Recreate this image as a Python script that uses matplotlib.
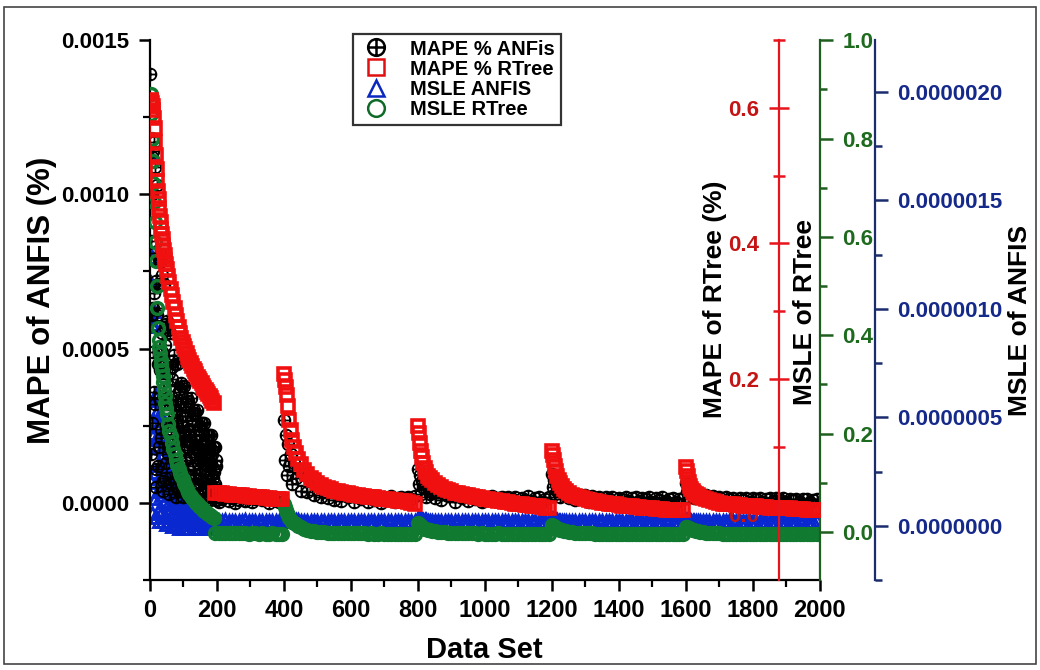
import numpy as np
import matplotlib
matplotlib.use('Agg')
import matplotlib.pyplot as plt
from matplotlib.path import Path
from matplotlib.lines import Line2D
from matplotlib.patches import Rectangle
from matplotlib.ticker import MultipleLocator, FormatStrFormatter
from matplotlib import font_manager

# ---------------- data ----------------
# x positions (data set index)
anfis_x_odd = list(range(1, 200, 2))
anfis_x_even = list(range(2, 199, 2))
rtree_x_first = list(range(2, 51, 2)) + list(range(54, 191, 4))
flat_x = list(range(195, 400, 10))
seg_offsets = [0, 3, 6, 9, 12, 16, 20, 25, 30, 36, 42, 50] + list(range(60, 400, 10))
seg_starts = [400, 800, 1200, 1600]

# MAPE % ANFIS (left axis, in 1e-5)
mape_anfis_odd = [
    139, 61, 100, 26, 114, 68, 36, 109, 72, 11,
    103, 45, 71, 18, 78, 46, 24, 74, 49, 7,
    71, 32, 51, 13, 58, 34, 18, 56, 38, 6,
    55, 24, 40, 10, 46, 28, 14, 45, 30, 5,
    45, 20, 32, 8, 37, 23, 12, 38, 25, 4,
    38, 17, 28, 7, 32, 20, 11, 33, 22, 3,
    34, 15, 25, 6, 29, 18, 9, 29, 20, 3,
    30, 13, 22, 6, 25, 15, 8, 26, 17, 3,
    26, 11, 19, 5, 22, 13, 7, 22, 14, 2,
    22, 9, 16, 4, 18, 11, 6, 18, 12, 2]
mape_anfis_even = [
    85, 16, 112, 49, 63, 117, 32, 81, 5, 61,
    63, 12, 79, 34, 43, 80, 21, 55, 4, 42,
    43, 8, 57, 25, 32, 59, 16, 42, 3, 32,
    33, 6, 44, 19, 25, 48, 13, 33, 2, 26,
    27, 5, 36, 16, 21, 39, 11, 28, 2, 22,
    23, 4, 31, 14, 18, 34, 9, 24, 2, 20,
    20, 4, 27, 12, 16, 30, 8, 22, 2, 17,
    18, 3, 24, 11, 14, 26, 7, 19, 1, 15,
    16, 3, 20, 9, 12, 22, 6, 16, 1, 13,
    13, 3, 17, 8, 10, 18, 5, 14, 1]
mape_anfis_flat = [1.8, 0.3, 1.2, 2.2, 0.7, 1.5, 0.0, 1.0, 2.0, 0.5, 1.7,
                   0.2, 1.3, 2.3, 0.8, 1.6, -0.2, 1.1, 1.9, 0.4, 1.4]
mape_anfis_400 = [27, 14, 22, 9, 19, 12, 16, 6, 13, 8, 11, 4,
                  9.0, 3.5, 7.0, 2.5, 6.0, 2.0, 5.0, 1.5, 4.5, 1.0,
                  3.8, 0.5, 3.2, 1.8, 2.8, 0.2, 2.5, 1.2, 2.4, 0.4,
                  2.2, 1.0, 2.3, 0.0, 1.8, 1.4, 2.2, 0.3, 1.6, 2.0,
                  0.6, 1.9, 1.1, 2.1]
mape_anfis_800 = [11, 6, 9, 3, 7, 5, 6, 2, 5, 3, 4, 1.5,
                  3.5, 1.0, 3.0, 2.2, 2.6, 0.4, 2.4, 1.5, 2.2, 0.6,
                  2.0, 1.2, 2.2, 0.2, 1.8, 1.4, 2.1, 0.5, 1.6, 2.0,
                  0.8, 1.9, 1.2, 2.0, 0.3, 1.7, 1.0, 2.1, 0.6, 1.5,
                  1.9, 0.4, 1.3, 1.8]
mape_anfis_1200 = [9.4, 5, 7.5, 3, 6, 4, 5, 2, 4, 2.5, 3.5, 1.5,
                   3.0, 1.0, 2.6, 2.0, 2.4, 0.4, 2.2, 1.4, 2.0, 0.6,
                   1.9, 1.1, 2.0, 0.2, 1.7, 1.3, 1.9, 0.5, 1.5, 1.8,
                   0.7, 1.7, 1.1, 1.8, 0.3, 1.5, 0.9, 1.8, 0.5, 1.3,
                   1.7, 0.4, 1.2, 1.6]
mape_anfis_1600 = [6.5, 3.5, 5.5, 2.0, 4.5, 3.0, 4.0, 1.5, 3.2, 2.0, 2.8, 1.2,
                   2.5, 0.8, 2.2, 1.7, 2.0, 0.3, 1.9, 1.2, 1.7, 0.5,
                   1.6, 0.9, 1.7, 0.2, 1.5, 1.1, 1.6, 0.4, 1.3, 1.5,
                   0.6, 1.5, 0.9, 1.5, 0.2, 1.3, 0.8, 1.4, 0.4, 1.1,
                   1.4, 0.3, 1.0, 1.3]

# MAPE % RTree (red axis)
mape_rtree_first = [0.612, 0.61, 0.607, 0.603, 0.597, 0.585, 0.57, 0.55, 0.53, 0.51,
                    0.492, 0.478, 0.465, 0.452, 0.441, 0.431, 0.422, 0.414, 0.406, 0.398,
                    0.391, 0.383, 0.376, 0.369, 0.362,
                    0.352, 0.343, 0.333, 0.324, 0.314, 0.305, 0.295, 0.285, 0.276, 0.268,
                    0.261, 0.255, 0.249, 0.244, 0.238, 0.233, 0.228, 0.223, 0.219, 0.215,
                    0.211, 0.207, 0.203, 0.2, 0.197, 0.194, 0.19, 0.187, 0.184, 0.181,
                    0.178, 0.175, 0.172, 0.168, 0.165]
mape_rtree_flat = [0.032, 0.031, 0.031, 0.030, 0.030, 0.029, 0.029, 0.028, 0.028, 0.027,
                   0.027, 0.026, 0.026, 0.025, 0.025, 0.024, 0.024, 0.023, 0.023, 0.022,
                   0.022]
mape_rtree_400 = [0.207, 0.198, 0.188, 0.176, 0.160, 0.140, 0.124, 0.110, 0.100, 0.090,
                  0.082, 0.074,
                  0.066, 0.059, 0.054, 0.050, 0.047, 0.044, 0.041, 0.039, 0.037, 0.035,
                  0.034, 0.033, 0.032, 0.031, 0.030, 0.029, 0.028, 0.027, 0.027, 0.026,
                  0.025, 0.025, 0.024, 0.023, 0.022, 0.022, 0.021, 0.021, 0.020, 0.019,
                  0.019, 0.018, 0.017, 0.016]
mape_rtree_800 = [0.130, 0.120, 0.106, 0.094, 0.085, 0.076, 0.069, 0.062, 0.057, 0.053,
                  0.050, 0.047,
                  0.043, 0.040, 0.038, 0.036, 0.034, 0.032, 0.031, 0.030, 0.029, 0.028,
                  0.027, 0.026, 0.025, 0.024, 0.023, 0.022, 0.021, 0.021, 0.020, 0.019,
                  0.018, 0.018, 0.017, 0.016, 0.016, 0.015, 0.014, 0.014, 0.013, 0.012,
                  0.012, 0.011, 0.010, 0.010]
mape_rtree_1200 = [0.093, 0.088, 0.080, 0.072, 0.064, 0.057, 0.051, 0.046, 0.042, 0.038,
                   0.035, 0.032,
                   0.029, 0.027, 0.025, 0.024, 0.023, 0.021, 0.020, 0.019, 0.018, 0.017,
                   0.017, 0.016, 0.015, 0.015, 0.014, 0.013, 0.013, 0.012, 0.012, 0.011,
                   0.011, 0.010, 0.010, 0.009, 0.009, 0.008, 0.008, 0.008, 0.007, 0.007,
                   0.007, 0.006, 0.006, 0.006]
mape_rtree_1600 = [0.070, 0.064, 0.056, 0.048, 0.042, 0.038, 0.035, 0.032, 0.030, 0.028,
                   0.026, 0.024,
                   0.022, 0.021, 0.019, 0.018, 0.017, 0.016, 0.016, 0.015, 0.015, 0.014,
                   0.014, 0.013, 0.013, 0.012, 0.012, 0.012, 0.011, 0.011, 0.011, 0.010,
                   0.010, 0.010, 0.009, 0.009, 0.009, 0.009, 0.008, 0.008, 0.008, 0.008,
                   0.007, 0.007, 0.007, 0.007]

# MSLE ANFIS (navy axis, in 1e-8)
msle_anfis_odd = [
    171, 43, 93, 6, 92, 43, 92, 13, 40, 52,
    61, 16, 37, 2, 42, 22, 49, 7, 24, 33,
    41, 11, 26, 1, 31, 16, 37, 6, 18, 25,
    31, 8, 20, 0, 23, 12, 28, 4, 13, 18,
    22, 6, 14, -1, 16, 8, 19, 3, 9, 13,
    15, 4, 10, -1, 11, 6, 13, 2, 6, 8,
    10, 3, 6, -1, 7, 4, 8, 1, 4, 5,
    6, 2, 4, -1, 4, 2, 4.6, 0.7, 2.2, 2.9,
    3.6, 1, 2.2, -1, 2.6, 1.4, 3.1, 0.5, 1.6, 2.1,
    2.6, 0.7, 1.6, -1, 1.9, 1.0, 2.3, 0.4, 1.2, 1.7]
msle_anfis_even = [
    112, 20, 124, 49, 58, 99, 25, 60, 4, 41,
    41, 7, 51, 22, 28, 51, 14, 36, 2, 27,
    28, 5, 37, 16, 20, 38, 10, 27, 2, 20,
    21, 4, 27, 12, 15, 28, 8, 19, 1, 15,
    15, 3, 20, 8, 11, 19, 5, 14, -1, 10,
    11, 2, 13, 6, 7, 14, 4, 9, -1, 7,
    7, 1, 9, 4, 5, 9, 2, 6, -1, 4,
    4, 0.8, 5, 2, 2.6, 4.8, 1.3, 3.2, -1, 2.4,
    2.4, 0.5, 3.1, 1.3, 1.7, 3.2, 0.9, 2.2, -1, 1.7,
    1.8, 0.3, 2.3, 1.0, 1.3, 2.3, 0.6, 1.7, -1]
msle_anfis_flat = [2.4, 2.2, 2.3, 2.5, 2.2, 2.3, 2.4, 2.2, 2.3, 2.5, 2.3,
                   2.2, 2.4, 2.3, 2.2, 2.4, 2.3, 2.3, 2.2, 2.4, 2.3]
msle_anfis_heads = [[4.6, 4.2, 3.8, 3.5, 3.2, 3.0, 2.8, 2.7, 2.6, 2.5, 2.5, 2.4],
                    [3.8, 3.5, 3.2, 3.0, 2.8, 2.7, 2.6, 2.5, 2.4, 2.4, 2.3, 2.3],
                    [3.2, 3.0, 2.8, 2.7, 2.6, 2.5, 2.4, 2.4, 2.3, 2.3, 2.3, 2.3],
                    [2.9, 2.8, 2.7, 2.6, 2.5, 2.4, 2.4, 2.3, 2.3, 2.3, 2.3, 2.2]]
msle_anfis_tail = [2.4, 2.3, 2.3, 2.2, 2.4, 2.3, 2.2, 2.3, 2.4, 2.3,
                   2.2, 2.3, 2.4, 2.2, 2.3, 2.3, 2.4, 2.2, 2.3, 2.3,
                   2.2, 2.4, 2.3, 2.2, 2.3, 2.4, 2.3, 2.2, 2.3, 2.4,
                   2.3, 2.2, 2.3, 2.3]

# MSLE RTree (green axis)
msle_rtree_first = [0.89, 0.85, 0.80, 0.755, 0.71, 0.67, 0.63, 0.59, 0.55, 0.50,
                    0.455, 0.415, 0.39, 0.377, 0.363, 0.35, 0.34, 0.33, 0.318, 0.304,
                    0.29, 0.276, 0.262, 0.251, 0.24,
                    0.22, 0.205, 0.195, 0.18, 0.168, 0.158, 0.146, 0.135, 0.127, 0.12,
                    0.113, 0.107, 0.1, 0.095, 0.088, 0.082, 0.077, 0.073, 0.069, 0.065,
                    0.062, 0.059, 0.056, 0.053, 0.05, 0.048, 0.045, 0.043, 0.04, 0.038,
                    0.036, 0.034, 0.032, 0.03, 0.029]
msle_rtree_flat = [-0.002, -0.002, -0.003, -0.002, -0.003, -0.003, -0.002, -0.003, -0.003,
                   -0.003, -0.004, -0.003, -0.003, -0.004, -0.003, -0.004, -0.004, -0.003,
                   -0.004, -0.004, -0.004]
msle_rtree_400 = [0.056, 0.050, 0.044, 0.038, 0.034, 0.029, 0.025, 0.021, 0.018, 0.015,
                  0.012, 0.009,
                  0.006, 0.004, 0.002, 0.001, 0.000, -0.001, -0.001, -0.002, -0.002, -0.002,
                  -0.002, -0.003, -0.003, -0.003, -0.003, -0.003, -0.003, -0.003, -0.003, -0.004,
                  -0.003, -0.004, -0.004, -0.003, -0.004, -0.004, -0.004, -0.004, -0.004, -0.004,
                  -0.004, -0.004, -0.004, -0.004]
msle_rtree_800 = [0.018, 0.016, 0.014, 0.012, 0.010, 0.008, 0.006, 0.005, 0.004, 0.003,
                  0.002, 0.001,
                  0.000, -0.001, -0.001, -0.002, -0.002, -0.002, -0.003, -0.003, -0.003, -0.003,
                  -0.003, -0.003, -0.004, -0.003, -0.004, -0.004, -0.004, -0.004, -0.003, -0.004,
                  -0.004, -0.004, -0.004, -0.004, -0.004, -0.004, -0.005, -0.004, -0.004, -0.005,
                  -0.004, -0.005, -0.005, -0.005]
msle_rtree_1200 = [0.014, 0.012, 0.011, 0.009, 0.008, 0.006, 0.005, 0.004, 0.003, 0.002,
                   0.001, 0.000,
                   -0.001, -0.002, -0.002, -0.003, -0.003, -0.003, -0.003, -0.004, -0.004, -0.004,
                   -0.004, -0.004, -0.004, -0.004, -0.004, -0.005, -0.004, -0.004, -0.005, -0.004,
                   -0.005, -0.005, -0.004, -0.005, -0.005, -0.005, -0.005, -0.005, -0.005, -0.005,
                   -0.005, -0.005, -0.005, -0.005]
msle_rtree_1600 = [0.010, 0.009, 0.008, 0.007, 0.006, 0.005, 0.004, 0.003, 0.002, 0.001,
                   0.000, -0.001,
                   -0.002, -0.002, -0.003, -0.003, -0.003, -0.004, -0.004, -0.004, -0.004, -0.004,
                   -0.004, -0.005, -0.004, -0.005, -0.005, -0.005, -0.005, -0.005, -0.005, -0.005,
                   -0.005, -0.005, -0.005, -0.005, -0.005, -0.005, -0.005, -0.005, -0.005, -0.005,
                   -0.005, -0.005, -0.005, -0.005]

legend_labels = ['MAPE % ANFis', 'MAPE % RTree', 'MSLE ANFIS', 'MSLE RTree']

# ---------------- assemble series ----------------
later_x = [s + o for s in seg_starts for o in seg_offsets]
x_anfis = np.array(anfis_x_odd + anfis_x_even + flat_x + later_x)
x_rtree = np.array(rtree_x_first + flat_x + later_x)

mape_anfis = np.array(mape_anfis_odd + mape_anfis_even + mape_anfis_flat + mape_anfis_400
                      + mape_anfis_800 + mape_anfis_1200 + mape_anfis_1600) * 1e-5
mape_rtree = np.array(mape_rtree_first + mape_rtree_flat + mape_rtree_400 + mape_rtree_800
                      + mape_rtree_1200 + mape_rtree_1600)
msle_anfis = np.array(msle_anfis_odd + msle_anfis_even + msle_anfis_flat
                      + sum([h + msle_anfis_tail for h in msle_anfis_heads], [])) * 1e-8
msle_rtree = np.array(msle_rtree_first + msle_rtree_flat + msle_rtree_400 + msle_rtree_800
                      + msle_rtree_1200 + msle_rtree_1600)

# ---------------- style ----------------
names = {f.name for f in font_manager.fontManager.ttflist}
narrow = 'Liberation Sans Narrow' if 'Liberation Sans Narrow' in names else 'Liberation Sans'
plt.rcParams['font.family'] = 'Liberation Sans'
plt.rcParams['font.weight'] = 'bold'

red_line = '#e8141c'
red_text = '#c41414'
green_line = '#1e5e1e'
green_text = '#1e6a1e'
navy_line = '#1b2c6e'
navy_text = '#15298a'

# circle with a plus inside
circ = Path.unit_circle()
oplus = Path(np.concatenate([circ.vertices, [[-1, 0], [1, 0], [0, -1], [0, 1]]]),
             np.concatenate([circ.codes, [Path.MOVETO, Path.LINETO, Path.MOVETO, Path.LINETO]]))

fig = plt.figure(figsize=(10.4, 6.7), dpi=100)
ax = fig.add_axes([0.1442, 0.1343, 0.6442, 0.806])
ax_blue = ax.twinx()
ax_green = ax.twinx()
ax_red = ax.twinx()

ax_blue.set_zorder(1)
ax.set_zorder(2)
ax_green.set_zorder(3)
ax_red.set_zorder(4)
for a in (ax, ax_blue, ax_green, ax_red):
    a.patch.set_visible(False)

# ---------------- data marks ----------------
ax.plot(x_anfis, mape_anfis, ls='none', marker=oplus, ms=8.5, mfc='none',
        mec='black', mew=1.3)
ax_blue.plot(x_anfis, msle_anfis, ls='none', marker='^', ms=8.3, mfc='none',
             mec='#0a28d0', mew=2.1)
ax_green.plot(x_rtree, msle_rtree, ls='none', marker='o', ms=8.5, mfc='none',
              mec='#0f7a30', mew=2.5)
ax_red.plot(x_rtree, mape_rtree, ls='none', marker='s', ms=9.2, mfc='none',
            mec='#f01010', mew=2.6)

# ---------------- main axes ----------------
ax.set_xlim(0, 2000)
ax.set_ylim(-0.00025, 0.0015)
xt = list(range(0, 2001, 200))
ax.set_xticks(xt, [str(v) for v in xt], fontfamily=narrow, fontsize=17, fontweight='bold')
ax.xaxis.set_minor_locator(MultipleLocator(100))
ax.yaxis.set_major_locator(MultipleLocator(0.0005))
ax.yaxis.set_minor_locator(MultipleLocator(0.00025))
ax.yaxis.set_major_formatter(FormatStrFormatter('%.4f'))
ax.spines['top'].set_visible(False)
ax.spines['right'].set_visible(False)
for s in ('left', 'bottom'):
    ax.spines[s].set_linewidth(1.6)
ax.tick_params(axis='both', which='major', direction='out', length=8, width=1.8)
ax.tick_params(axis='both', which='minor', direction='out', length=5, width=1.6)
ax.tick_params(axis='y', labelsize=16, pad=7)
ax.tick_params(axis='x', pad=6)

# ---------------- red axis: MAPE of RTree ----------------
for s in ax_red.spines.values():
    s.set_visible(False)
ax_red.spines['left'].set_visible(True)
ax_red.spines['left'].set_position(('axes', 0.939))
ax_red.spines['left'].set_color(red_line)
ax_red.spines['left'].set_linewidth(1.6)
ax_red.yaxis.tick_left()
ax_red.set_ylim(-0.097, 0.7005)
ax_red.yaxis.set_major_locator(MultipleLocator(0.2))
ax_red.yaxis.set_minor_locator(MultipleLocator(0.1))
ax_red.yaxis.set_major_formatter(FormatStrFormatter('%.1f'))
ax_red.tick_params(axis='y', which='both', direction='inout', color=red_line,
                   labelcolor=red_text, width=1.8, labelsize=16, pad=7)
ax_red.tick_params(axis='y', which='major', length=15)
ax_red.tick_params(axis='y', which='minor', length=9)

# ---------------- green axis: MSLE of RTree ----------------
for s in ax_green.spines.values():
    s.set_visible(False)
ax_green.spines['right'].set_visible(True)
ax_green.spines['right'].set_color(green_line)
ax_green.spines['right'].set_linewidth(1.6)
ax_green.set_ylim(-0.098, 1.0005)
ax_green.yaxis.set_major_locator(MultipleLocator(0.2))
ax_green.yaxis.set_minor_locator(MultipleLocator(0.1))
ax_green.yaxis.set_major_formatter(FormatStrFormatter('%.1f'))
ax_green.tick_params(axis='y', which='both', direction='out', color=green_line,
                     labelcolor=green_text, width=1.8, labelsize=16, pad=7)
ax_green.tick_params(axis='y', which='major', length=9)
ax_green.tick_params(axis='y', which='minor', length=5)

# ---------------- navy axis: MSLE of ANFIS ----------------
for s in ax_blue.spines.values():
    s.set_visible(False)
ax_blue.spines['right'].set_visible(True)
ax_blue.spines['right'].set_position(('axes', 1.082))
ax_blue.spines['right'].set_color(navy_line)
ax_blue.spines['right'].set_linewidth(1.6)
ax_blue.set_ylim(-2.5e-7, 2.24e-6)
ax_blue.yaxis.set_major_locator(MultipleLocator(5e-7))
ax_blue.yaxis.set_minor_locator(MultipleLocator(2.5e-7))
ax_blue.yaxis.set_major_formatter(FormatStrFormatter('%.7f'))
ax_blue.tick_params(axis='y', which='both', direction='out', color=navy_line,
                    labelcolor=navy_text, width=1.8, labelsize=16, pad=7)
ax_blue.tick_params(axis='y', which='major', length=9)
ax_blue.tick_params(axis='y', which='minor', length=5)

# ---------------- axis titles ----------------
fig.text(0.040, 0.551, 'MAPE of ANFIS (%)', rotation=90, ha='center', va='center', fontsize=22.5)
fig.text(0.466, 0.030, 'Data Set', ha='center', va='center', fontsize=21, fontfamily=narrow)
fig.text(0.6875, 0.554, 'MAPE of RTree (%)', rotation=90, ha='center', va='center', fontsize=19)
fig.text(0.774, 0.534, 'MSLE of RTree', rotation=90, ha='center', va='center', fontsize=19)
fig.text(0.981, 0.522, 'MSLE of ANFIS', rotation=90, ha='center', va='center', fontsize=19)

# ---------------- legend ----------------
leg_handles = [
    Line2D([], [], ls='none', marker=oplus, ms=12, mfc='none', mec='black', mew=1.8),
    Line2D([], [], ls='none', marker='s', ms=12, mfc='none', mec='#e01010', mew=1.8),
    Line2D([], [], ls='none', marker='^', ms=12, mfc='none', mec='#0a28c0', mew=1.8),
    Line2D([], [], ls='none', marker='o', ms=12, mfc='none', mec='#0f6a28', mew=1.8),
]
leg = ax_red.legend(leg_handles, legend_labels, loc='upper left',
                    bbox_to_anchor=(0.339, 0.950), bbox_transform=fig.transFigure,
                    frameon=True, fancybox=False, edgecolor='black', fontsize=14.5,
                    handlelength=1.7, handletextpad=0.85, labelspacing=0.05,
                    borderpad=0.3, borderaxespad=0)
leg.get_frame().set_linewidth(1.6)
leg.set_zorder(10)

# thin frame around the picture
fig.patches.append(Rectangle((0.0038, 0.009), 0.992, 0.981, transform=fig.transFigure,
                             fill=False, edgecolor='#444444', linewidth=1.2))

fig.savefig('out.png', dpi=100, facecolor='white')
